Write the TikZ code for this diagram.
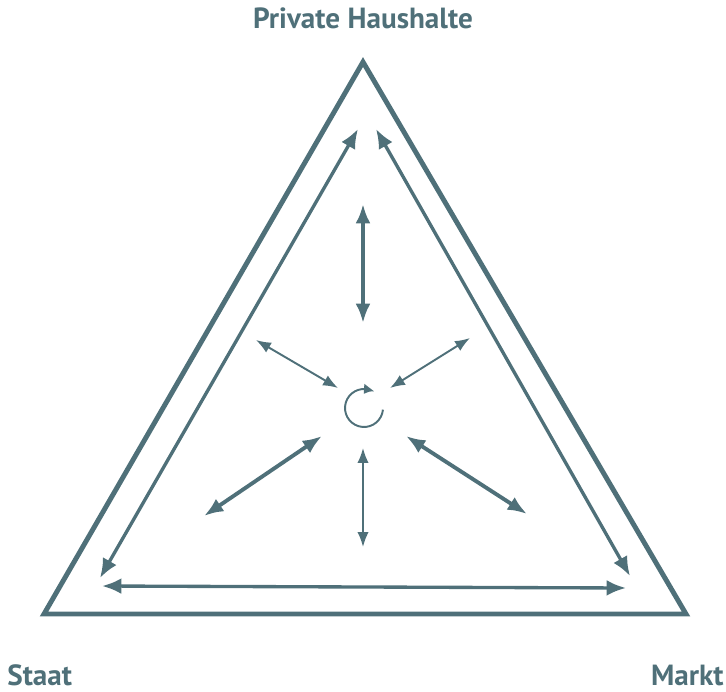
\documentclass[tikz,border=0pt]{standalone}
\usepackage{fontspec}
\setmainfont{PT Sans}
\usetikzlibrary{positioning, arrows.meta, bending}
\definecolor{tInk}{HTML}{4F7079}

\begin{document}
\begin{tikzpicture}[x=0.02cm, y=-0.02cm, >=Latex,
  lbl/.style={text=tInk, font=\fontsize{16.6}{18}\selectfont\bfseries, inner sep=0pt},
  edgearr/.style={{Latex[length=11pt,width=9pt]}-{Latex[length=11pt,width=9pt]}, line width=1.9pt, tInk},
  bigarr/.style={{Latex[length=11pt,width=8.5pt]}-{Latex[length=11pt,width=8.5pt]}, line width=2.2pt, tInk},
  smallarr/.style={{Latex[length=8.5pt,width=6.5pt]}-{Latex[length=8.5pt,width=6.5pt]}, line width=1.1pt, tInk}]
  \useasboundingbox (0,0) rectangle (726,692);
  % corners of the triangle
  \coordinate (top) at (363,62);
  \coordinate (left) at (44,614);
  \coordinate (right) at (686,614);
  \draw[tInk, line width=2.8pt, line join=miter] (top) -- (left) -- (right) -- cycle;
  % labels
  \node[lbl, anchor=base] (ph) at (363,29) {Private Haushalte};
  \node[lbl, anchor=base west] (st) at (7,685) {Staat};
  \node[lbl, anchor=base east] (mk) at (724,685) {Markt};
  % arrows along the sides
  \coordinate (l1) at (100,578); \coordinate (l2) at (358,129);
  \coordinate (r1) at (376,129); \coordinate (r2) at (630,576);
  \coordinate (b1) at (102,586); \coordinate (b2) at (626,588);
  \draw[edgearr] (l1) -- (l2);
  \draw[edgearr] (r1) -- (r2);
  \draw[edgearr] (b1) -- (b2);
  % centre
  \coordinate (c) at (364,408);
  \draw[tInk, line width=1.1pt, -{Latex[length=6pt,width=6pt,bend]}] ([shift={(-5:0.38cm)}]c) arc[start angle=-5, end angle=-302, radius=0.38cm];
  \coordinate (n1) at (363,204); \coordinate (n2) at (363,323);
  \coordinate (nw1) at (256,340); \coordinate (nw2) at (338,388);
  \coordinate (ne1) at (470,338); \coordinate (ne2) at (390,388);
  \coordinate (sw1) at (322,436); \coordinate (sw2) at (204,516);
  \coordinate (se1) at (406,436); \coordinate (se2) at (527,514);
  \coordinate (s1) at (363,448); \coordinate (s2) at (363,547);
  \draw[bigarr] (n1) -- (n2);
  \draw[smallarr] (nw1) -- (nw2);
  \draw[smallarr] (ne1) -- (ne2);
  \draw[bigarr] (sw1) -- (sw2);
  \draw[bigarr] (se1) -- (se2);
  \draw[smallarr] (s1) -- (s2);
\end{tikzpicture}
\end{document}
